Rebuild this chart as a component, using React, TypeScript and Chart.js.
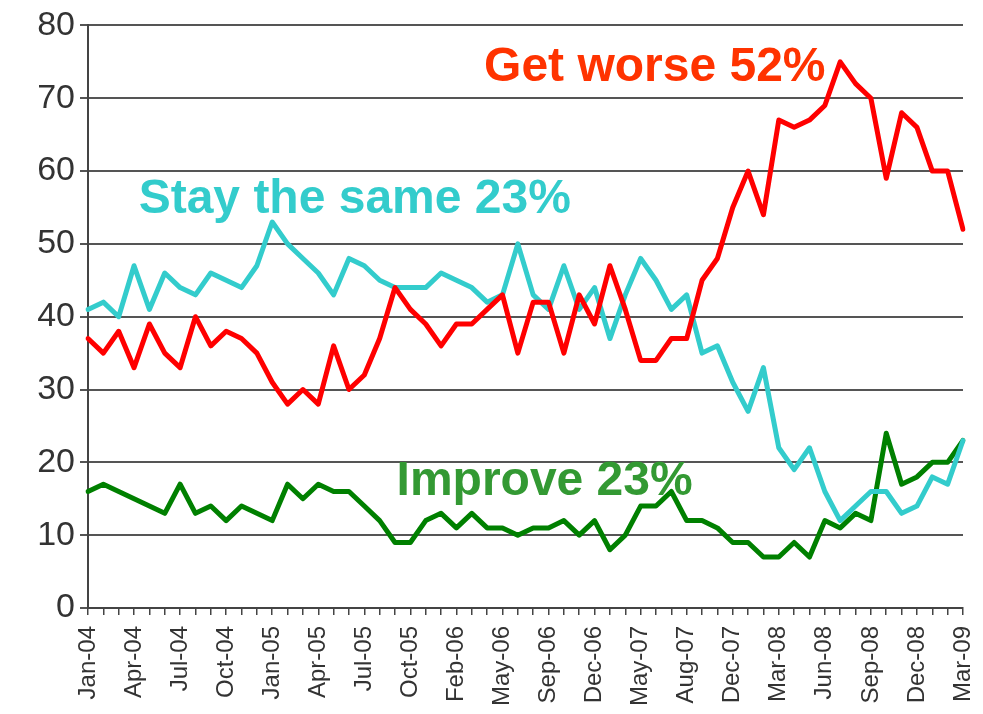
import React, { useEffect, useRef } from "react";
import { Chart, registerables } from "chart.js";

Chart.register(...registerables);

const categories = [
  "Jan-04", "Feb-04", "Mar-04", "Apr-04", "May-04", "Jun-04", "Jul-04", "Aug-04", "Sep-04", "Oct-04",
  "Nov-04", "Dec-04", "Jan-05", "Feb-05", "Mar-05", "Apr-05", "May-05", "Jun-05", "Jul-05", "Aug-05",
  "Sep-05", "Oct-05", "Nov-05", "Jan-06", "Feb-06", "Mar-06", "Apr-06", "May-06", "Jun-06", "Jul-06",
  "Sep-06", "Oct-06", "Nov-06", "Dec-06", "Feb-07", "Mar-07", "May-07", "Jun-07", "Jul-07", "Aug-07",
  "Sep-07", "Nov-07", "Dec-07", "Jan-08", "Feb-08", "Mar-08", "Apr-08", "May-08", "Jun-08", "Jul-08",
  "Aug-08", "Sep-08", "Oct-08", "Nov-08", "Dec-08", "Jan-09", "Feb-09", "Mar-09",
];

const getWorse = [
  37, 35, 38, 33, 39, 35, 33, 40, 36, 38, 37, 35, 31, 28, 30, 28, 36, 30, 32, 37,
  44, 41, 39, 36, 39, 39, 41, 43, 35, 42, 42, 35, 43, 39, 47, 41, 34, 34, 37, 37,
  45, 48, 55, 60, 54, 67, 66, 67, 69, 75, 72, 70, 59, 68, 66, 60, 60, 52,
];

const stayTheSame = [
  41, 42, 40, 47, 41, 46, 44, 43, 46, 45, 44, 47, 53, 50, 48, 46, 43, 48, 47, 45,
  44, 44, 44, 46, 45, 44, 42, 43, 50, 43, 41, 47, 41, 44, 37, 43, 48, 45, 41, 43,
  35, 36, 31, 27, 33, 22, 19, 22, 16, 12, 14, 16, 16, 13, 14, 18, 17, 23,
];

const improve = [
  16, 17, 16, 15, 14, 13, 17, 13, 14, 12, 14, 13, 12, 17, 15, 17, 16, 16, 14, 12,
  9, 9, 12, 13, 11, 13, 11, 11, 10, 11, 11, 12, 10, 12, 8, 10, 14, 14, 16, 12,
  12, 11, 9, 9, 7, 7, 9, 7, 12, 11, 13, 12, 24, 17, 18, 20, 20, 23,
];

const seriesNames = ["Get worse", "Stay the same", "Improve"];
const annotationTexts = ["Get worse 52%", "Stay the same 23%", "Improve 23%"];
const yTicks = [0, 10, 20, 30, 40, 50, 60, 70, 80];

const FONT = "'Liberation Sans', Arial, Helvetica, sans-serif";

const annotationPlugin = {
  id: "seriesAnnotations",
  beforeDatasetsDraw(chart: any) {
    const { ctx, scales } = chart;
    const x = scales.x;
    const y = scales.y;
    const items = [
      { text: annotationTexts[0], xi: 25.8, yv: 72.3, color: "#FF3300" },
      { text: annotationTexts[1], xi: 3.3, yv: 54.3, color: "#33CCCC" },
      { text: annotationTexts[2], xi: 20.1, yv: 15.5, color: "#339933" },
    ];
    ctx.save();
    ctx.font = `bold 48px ${FONT}`;
    ctx.textAlign = "left";
    ctx.textBaseline = "alphabetic";
    for (const it of items) {
      ctx.fillStyle = it.color;
      ctx.fillText(it.text, x.getPixelForValue(it.xi), y.getPixelForValue(it.yv));
    }
    ctx.restore();
  },
};

export default function App() {
  const canvasRef = useRef<HTMLCanvasElement | null>(null);

  useEffect(() => {
    if (!canvasRef.current) return;
    const lineStyle = {
      borderWidth: 5,
      pointRadius: 0,
      tension: 0,
      borderJoinStyle: "round" as const,
      borderCapStyle: "round" as const,
    };
    const chart = new Chart(canvasRef.current, {
      type: "line",
      data: {
        labels: categories,
        datasets: [
          { label: seriesNames[0], data: getWorse, borderColor: "#FF0000", backgroundColor: "#FF0000", ...lineStyle },
          { label: seriesNames[1], data: stayTheSame, borderColor: "#33CCCC", backgroundColor: "#33CCCC", ...lineStyle },
          { label: seriesNames[2], data: improve, borderColor: "#008000", backgroundColor: "#008000", ...lineStyle },
        ],
      },
      options: {
        animation: false,
        responsive: true,
        maintainAspectRatio: false,
        layout: { padding: { left: 0, right: 20, top: 24, bottom: 0 } },
        plugins: {
          legend: { display: false },
          tooltip: { enabled: false },
        },
        scales: {
          x: {
            type: "category",
            offset: false,
            afterFit: (s: any) => {
              s.height = 106;
              s.paddingLeft = 0;
              s.paddingRight = 0;
            },
            grid: {
              display: true,
              drawOnChartArea: false,
              drawTicks: true,
              tickLength: 7,
              color: "#444444",
              lineWidth: 1.5,
            },
            border: { display: true, color: "#444444", width: 2 },
            ticks: {
              autoSkip: false,
              maxRotation: 90,
              minRotation: 90,
              padding: 11,
              color: "#333333",
              font: { family: FONT, size: 24 },
              callback: (_v: any, i: number) => (i % 3 === 0 ? categories[i] : ""),
            },
          },
          y: {
            min: 0,
            max: 80,
            afterFit: (s: any) => {
              s.width = 88;
            },
            afterBuildTicks: (s: any) => {
              s.ticks = yTicks.map((v) => ({ value: v }));
            },
            grid: {
              color: "#555555",
              lineWidth: 2,
              drawTicks: true,
              tickLength: 8,
            },
            border: { display: true, color: "#444444", width: 2 },
            ticks: {
              padding: 5,
              color: "#333333",
              font: { family: FONT, size: 34 },
            },
          },
        },
      },
      plugins: [annotationPlugin],
    });
    return () => chart.destroy();
  }, []);

  return (
    <div style={{ position: "fixed", left: 0, top: 0, width: 983, height: 714, background: "#ffffff" }}>
      <canvas ref={canvasRef} />
    </div>
  );
}
